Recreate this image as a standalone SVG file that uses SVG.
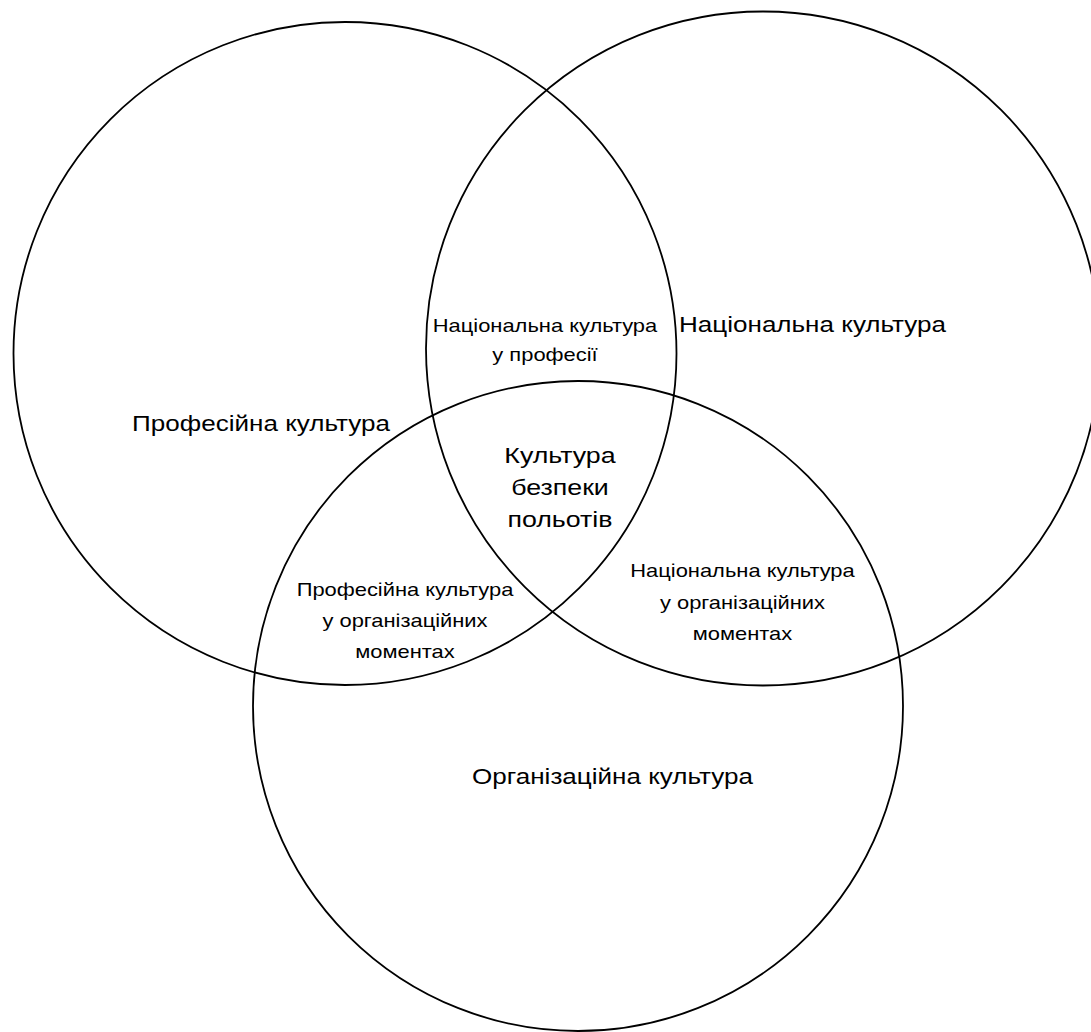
<svg xmlns="http://www.w3.org/2000/svg" width="1091" height="1032" viewBox="0 0 1091 1032">
  <style>
    .set { fill: none; stroke: #000; stroke-width: 1.8; }
    text { font-family: "Liberation Sans", Arial, sans-serif; fill: #000; text-anchor: middle; }
    .big { font-size: 21.4px; }
    .mid { font-size: 22px; }
    .small { font-size: 18px; }
  </style>
  <rect width="1091" height="1032" fill="#fff"/>
  <!-- the three overlapping culture sets; labels are widened horizontally by 1.2 -->
  <g id="professional">
    <circle class="set" cx="345" cy="353.5" r="331.5"/>
    <g transform="translate(261 0) scale(1.217 1)">
      <text class="big" x="0" y="431">Професійна культура</text>
    </g>
  </g>
  <g id="national">
    <circle class="set" cx="763" cy="348.5" r="337"/>
    <g transform="translate(812.5 0) scale(1.217 1)">
      <text class="big" x="0" y="332">Національна культура</text>
    </g>
  </g>
  <g id="organizational">
    <circle class="set" cx="578" cy="706" r="325"/>
    <g transform="translate(612.5 0) scale(1.217 1)">
      <text class="big" x="0" y="784">Організаційна культура</text>
    </g>
  </g>
  <!-- overlap labels -->
  <g id="national-in-profession" transform="translate(545 0) scale(1.217 1)">
    <text class="small" x="0" y="332">Національна культура</text>
    <text class="small" x="0" y="361">у професії</text>
  </g>
  <g id="safety-culture" transform="translate(560 0) scale(1.217 1)">
    <text class="mid" x="0" y="463">Культура</text>
    <text class="mid" x="0" y="495">безпеки</text>
    <text class="mid" x="0" y="527">польотів</text>
  </g>
  <g id="professional-in-organization" transform="translate(405 0) scale(1.217 1)">
    <text class="small" x="0" y="596">Професійна культура</text>
    <text class="small" x="0" y="627">у організаційних</text>
    <text class="small" x="0" y="658">моментах</text>
  </g>
  <g id="national-in-organization" transform="translate(742.5 0) scale(1.217 1)">
    <text class="small" x="0" y="577">Національна культура</text>
    <text class="small" x="0" y="609">у організаційних</text>
    <text class="small" x="0" y="640">моментах</text>
  </g>
</svg>
